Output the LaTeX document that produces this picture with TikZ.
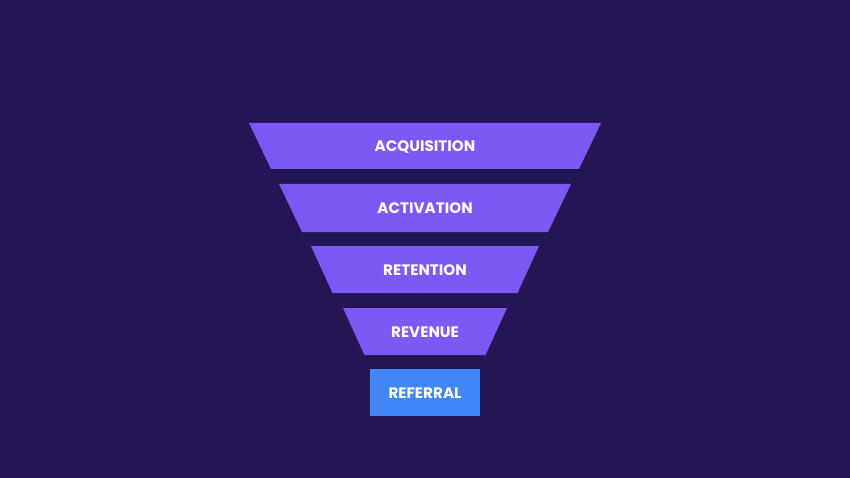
\documentclass[tikz,border=0pt]{standalone}
\usepackage{fontspec}
\setmainfont{Poppins}
\usetikzlibrary{positioning}

\definecolor{bgpurple}{HTML}{261555}
\definecolor{bandpurple}{HTML}{7C58F5}
\definecolor{refblue}{HTML}{4086F4}

\tikzset{
  stagelabel/.style={text=white, font=\bfseries\fontsize{15.2}{18}\selectfont,
    text height=10.6pt, text depth=0pt, inner sep=0pt},
  band/.style={fill=bandpurple},
}

\begin{document}
\begin{tikzpicture}[x=1pt, y=-1pt]
	\fill[bgpurple] (0,0) rectangle (850,478);
	\useasboundingbox (0,0) rectangle (850,478);
	% funnel bands: top y / bottom y / half width at top / half width at bottom
	\foreach \ty/\by/\tw/\bw/\name/\txt in {
		123/169/176/154/acq/ACQUISITION,
		184/232/146/123/act/ACTIVATION,
		246/293/114/92.5/ret/RETENTION,
		308/355/82/60.5/rev/REVENUE}{
		\fill[band] (425-\tw,\ty) -- (425+\tw,\ty) -- (425+\bw,\by) -- (425-\bw,\by) -- cycle;
		\node[stagelabel] (\name) at (425,{(\ty+\by)/2+0.5}) {\txt};
	}
	% last stage is a plain box
	\fill[refblue] (370,369) rectangle (480,416);
	\node[stagelabel] (ref) at (425,393) {REFERRAL};
\end{tikzpicture}
\end{document}
